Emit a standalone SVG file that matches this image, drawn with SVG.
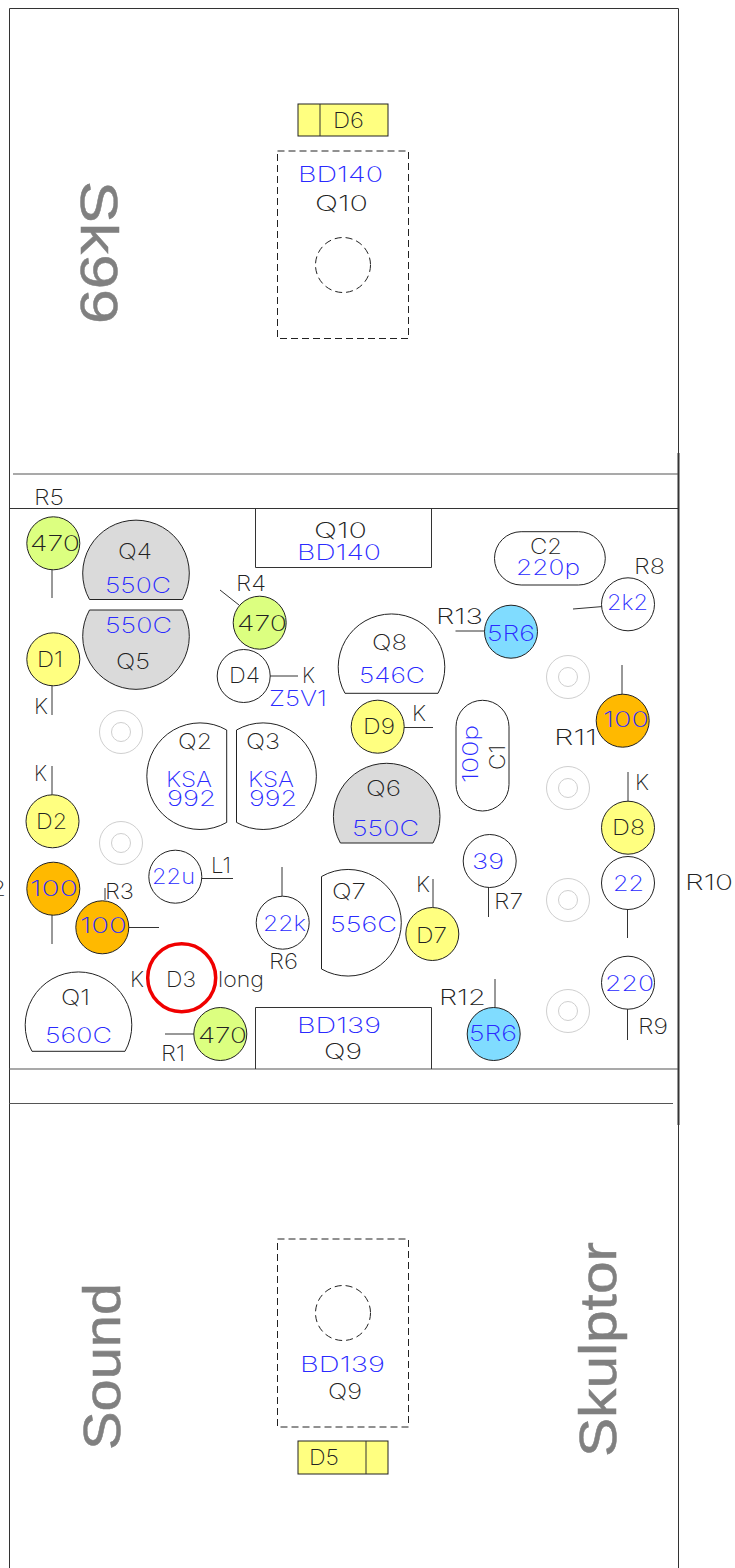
<svg xmlns="http://www.w3.org/2000/svg" width="735" height="1568" viewBox="0 0 735 1568">
<style>
text{font-family:"Inter","Liberation Sans",sans-serif;font-size:21px;font-weight:200;fill:#222}
text.b{fill:#2a2aff}
text.big{font-family:"Liberation Sans",sans-serif;font-size:52px;font-weight:400;fill:#808080;stroke:#808080;stroke-width:.5}
.o{fill:none;stroke:#222;stroke-width:1}
.w{fill:#fff;stroke:#222;stroke-width:1}
.gr{fill:#dadada;stroke:#222;stroke-width:1}
.lg{fill:#dcff80;stroke:#222;stroke-width:1}
.ye{fill:#ffff80;stroke:#222;stroke-width:1}
.or{fill:#ffb900;stroke:#222;stroke-width:1}
.bl{fill:#80dcff;stroke:#222;stroke-width:1}
.da{fill:none;stroke:#222;stroke-width:1;stroke-dasharray:7 4}
.h{fill:none;stroke:#cfcfcf;stroke-width:1}
.l{stroke:#333;stroke-width:1;fill:none}
.e{stroke:#555;stroke-width:1.2;fill:none}
</style>
<rect width="735" height="1568" fill="#fff"/>
<g id="board">
<path class="l" d="M9.5 1568V8.5H678.5V1568"/>
<path d="M678.5 453V1125" stroke="#333" stroke-width="2" fill="none"/>
<path class="e" d="M13 474H678"/>
<path class="l" d="M9 508.500H678"/>
<path class="e" d="M9 1069H678"/>
<path class="e" d="M9 1103.500H673"/>
</g>
<g id="titles">
<text class="big" transform="translate(81 181) rotate(90)" textLength="143" lengthAdjust="spacingAndGlyphs">Sk99</text>
<text class="big" transform="translate(120 1450) rotate(-90)" textLength="167" lengthAdjust="spacingAndGlyphs">Sound</text>
<text class="big" transform="translate(616 1457) rotate(-90)" textLength="215" lengthAdjust="spacingAndGlyphs">Skulptor</text>
</g>
<g id="connectors">
<path class="l" d="M52 570V598M52 686V715M220 590L239 605M267 676H298M52 766V795M52 915V944M128.500 927.500H159M105 888V900M202 878.500H233M282 867V896M165 1034H194M573 609L603 606.500M455.500 631H485M404 727.500H433M622 665V695M628 772V801M627.500 909V938M488.500 887V917M433 879V907M495 979V1007M627.500 1008V1040"/>
</g>
<g id="holes">
<g class="h"><circle cx="121" cy="732" r="21.500"/><circle cx="121" cy="732" r="9.500"/></g>
<g class="h"><circle cx="121" cy="843" r="21.500"/><circle cx="121" cy="843" r="9.500"/></g>
<g class="h"><circle cx="568" cy="677" r="21.500"/><circle cx="568" cy="677" r="9.500"/></g>
<g class="h"><circle cx="568" cy="788" r="21.500"/><circle cx="568" cy="788" r="9.500"/></g>
<g class="h"><circle cx="568" cy="900" r="21.500"/><circle cx="568" cy="900" r="9.500"/></g>
<g class="h"><circle cx="568" cy="1011" r="21.500"/><circle cx="568" cy="1011" r="9.500"/></g>
</g>
<g id="D6"><rect class="ye" x="298" y="104" width="90" height="32"/><path class="l" d="M320 104V136"/><text x="333" y="128" textLength="31" lengthAdjust="spacingAndGlyphs">D6</text></g>
<g id="Q10top"><rect class="da" x="277.500" y="151" width="131" height="187.500"/><circle class="da" cx="343" cy="265" r="27.500"/><text class="b" x="298" y="182" textLength="85" lengthAdjust="spacingAndGlyphs">BD140</text><text x="315" y="211" textLength="53" lengthAdjust="spacingAndGlyphs">Q10</text></g>
<g id="Q9bottom"><rect class="da" x="277.500" y="1239" width="131" height="188"/><circle class="da" cx="343" cy="1313" r="27.500"/><text class="b" x="300" y="1372" textLength="85" lengthAdjust="spacingAndGlyphs">BD139</text><text x="328" y="1399" textLength="34" lengthAdjust="spacingAndGlyphs">Q9</text></g>
<g id="D5"><rect class="ye" x="298" y="1441" width="90" height="33"/><path class="l" d="M366 1441V1474"/><text x="309" y="1465" textLength="30" lengthAdjust="spacingAndGlyphs">D5</text></g>
<g id="Q10"><path class="l" d="M255.500 508.500V567.500H431.500V508.500"/><text x="314" y="538" textLength="53" lengthAdjust="spacingAndGlyphs">Q10</text><text class="b" x="297" y="560" textLength="84" lengthAdjust="spacingAndGlyphs">BD140</text></g>
<g id="Q9"><path class="l" d="M255.500 1069V1007.500H431.500V1069"/><text class="b" x="297" y="1032.700" textLength="84" lengthAdjust="spacingAndGlyphs">BD139</text><text x="324" y="1059" textLength="38" lengthAdjust="spacingAndGlyphs">Q9</text></g>
<g id="R5"><circle class="lg" cx="53.300" cy="543.300" r="26.500"/><text x="30" y="551" textLength="50" lengthAdjust="spacingAndGlyphs">470</text><text x="34" y="505" textLength="30" lengthAdjust="spacingAndGlyphs">R5</text></g>
<g id="Q4"><path class="gr" d="M89.500 599.500A53.300 53.300 0 1 1 182.500 599.500Z"/><text x="118" y="558.500" textLength="34" lengthAdjust="spacingAndGlyphs">Q4</text><text class="b" x="105" y="592.700" textLength="66" lengthAdjust="spacingAndGlyphs">550C</text></g>
<g id="Q5"><path class="gr" d="M89.500 610A53.300 53.300 0 1 0 182.500 610Z"/><text class="b" x="105" y="633" textLength="67" lengthAdjust="spacingAndGlyphs">550C</text><text x="116" y="669" textLength="34" lengthAdjust="spacingAndGlyphs">Q5</text></g>
<g id="D1"><circle class="ye" cx="53.300" cy="659.300" r="26.500"/><text x="37" y="667" textLength="26" lengthAdjust="spacingAndGlyphs">D1</text><text x="34" y="714" textLength="14" lengthAdjust="spacingAndGlyphs">K</text></g>
<g id="R4"><circle class="lg" cx="259.700" cy="622.700" r="26.500"/><text x="236" y="590.700" textLength="30" lengthAdjust="spacingAndGlyphs">R4</text><text x="237" y="630.700" textLength="50" lengthAdjust="spacingAndGlyphs">470</text></g>
<g id="D4"><circle class="w" cx="243.700" cy="676" r="26.500"/><text x="229" y="683" textLength="31" lengthAdjust="spacingAndGlyphs">D4</text><text x="302" y="683" textLength="13" lengthAdjust="spacingAndGlyphs">K</text><text class="b" x="269" y="706" textLength="58" lengthAdjust="spacingAndGlyphs">Z5V1</text></g>
<g id="Q2"><path class="w" d="M226.700 730A53.300 53.300 0 1 0 226.700 822.400Z"/><text x="178" y="749" textLength="34" lengthAdjust="spacingAndGlyphs">Q2</text><text class="b" x="166" y="787" textLength="46" lengthAdjust="spacingAndGlyphs">KSA</text><text class="b" x="167" y="806" textLength="49" lengthAdjust="spacingAndGlyphs">992</text></g>
<g id="Q3"><path class="w" d="M236.500 730A53.300 53.300 0 1 1 236.500 822.400Z"/><text x="246" y="749" textLength="34" lengthAdjust="spacingAndGlyphs">Q3</text><text class="b" x="248" y="787" textLength="46" lengthAdjust="spacingAndGlyphs">KSA</text><text class="b" x="249" y="806" textLength="48" lengthAdjust="spacingAndGlyphs">992</text></g>
<g id="D2"><circle class="ye" cx="52.500" cy="821.300" r="26.500"/><text x="34" y="780.700" textLength="13" lengthAdjust="spacingAndGlyphs">K</text><text x="36" y="829" textLength="31" lengthAdjust="spacingAndGlyphs">D2</text></g>
<g id="R2"><circle class="or" cx="53.300" cy="888.700" r="26.500"/><text class="b" x="30" y="896" textLength="48" lengthAdjust="spacingAndGlyphs">100</text><text x="-24" y="896" textLength="30" lengthAdjust="spacingAndGlyphs">R2</text></g>
<g id="R3"><circle class="or" cx="102.300" cy="927.300" r="26.500"/><text x="105" y="898.700" textLength="29" lengthAdjust="spacingAndGlyphs">R3</text><text class="b" x="80" y="933" textLength="47" lengthAdjust="spacingAndGlyphs">100</text></g>
<g id="L1"><circle class="w" cx="175.300" cy="876.700" r="26.500"/><text class="b" x="152" y="884" textLength="43" lengthAdjust="spacingAndGlyphs">22u</text><text x="211" y="872.700" textLength="20" lengthAdjust="spacingAndGlyphs">L1</text></g>
<g id="R6"><circle class="w" cx="282.700" cy="922.700" r="26.500"/><text class="b" x="263" y="931" textLength="43" lengthAdjust="spacingAndGlyphs">22k</text><text x="269" y="969" textLength="29" lengthAdjust="spacingAndGlyphs">R6</text></g>
<g id="D3"><circle cx="181.700" cy="977.700" r="34" fill="none" stroke="#f00000" stroke-width="3.500"/><text x="130" y="987" textLength="14" lengthAdjust="spacingAndGlyphs">K</text><text x="166" y="986.700" textLength="30" lengthAdjust="spacingAndGlyphs">D3</text><text x="218" y="987" textLength="46" lengthAdjust="spacingAndGlyphs">long</text></g>
<g id="R1"><circle class="lg" cx="220.300" cy="1034" r="26.500"/><text x="198" y="1043" textLength="49" lengthAdjust="spacingAndGlyphs">470</text><text x="161" y="1060.700" textLength="24" lengthAdjust="spacingAndGlyphs">R1</text></g>
<g id="Q1"><path class="w" d="M32 1051.300A53.300 53.300 0 1 1 125 1051.300Z"/><text x="61" y="1004.700" textLength="29" lengthAdjust="spacingAndGlyphs">Q1</text><text class="b" x="45" y="1043" textLength="67" lengthAdjust="spacingAndGlyphs">560C</text></g>
<g id="C2"><rect class="w" x="494.500" y="531.700" width="110.800" height="53.300" rx="26.650"/><text x="530" y="554" textLength="32" lengthAdjust="spacingAndGlyphs">C2</text><text class="b" x="516" y="575" textLength="64" lengthAdjust="spacingAndGlyphs">220p</text></g>
<g id="R8"><circle class="w" cx="628" cy="604.300" r="26.500"/><text x="634" y="574" textLength="31" lengthAdjust="spacingAndGlyphs">R8</text><text class="b" x="607" y="610" textLength="41" lengthAdjust="spacingAndGlyphs">2k2</text></g>
<g id="R13"><circle class="bl" cx="511" cy="631.700" r="26.500"/><text x="436" y="624" textLength="47" lengthAdjust="spacingAndGlyphs">R13</text><text class="b" x="487" y="640.700" textLength="48" lengthAdjust="spacingAndGlyphs">5R6</text></g>
<g id="Q8"><path class="w" d="M345 693.300A53.300 53.300 0 1 1 438 693.300Z"/><text x="372" y="650" textLength="35" lengthAdjust="spacingAndGlyphs">Q8</text><text class="b" x="359" y="683" textLength="66" lengthAdjust="spacingAndGlyphs">546C</text></g>
<g id="D9"><circle class="ye" cx="377.700" cy="726.700" r="26.500"/><text x="363" y="734" textLength="32" lengthAdjust="spacingAndGlyphs">D9</text><text x="412" y="720.700" textLength="14" lengthAdjust="spacingAndGlyphs">K</text></g>
<g id="C1"><rect class="w" x="456" y="700.300" width="53" height="110.700" rx="26.500"/><text class="b" transform="translate(478 783) rotate(-90)" textLength="58" lengthAdjust="spacingAndGlyphs">100p</text><text transform="translate(505 770) rotate(-90)" textLength="25" lengthAdjust="spacingAndGlyphs">C1</text></g>
<g id="R11"><circle class="or" cx="622.700" cy="720.700" r="26.500"/><text x="554" y="745" textLength="43" lengthAdjust="spacingAndGlyphs">R11</text><text class="b" x="603" y="727" textLength="46" lengthAdjust="spacingAndGlyphs">100</text></g>
<g id="Q6"><path class="gr" d="M340.400 843A53.300 53.300 0 1 1 433 843Z"/><text x="366" y="796" textLength="35" lengthAdjust="spacingAndGlyphs">Q6</text><text class="b" x="352" y="836" textLength="67" lengthAdjust="spacingAndGlyphs">550C</text></g>
<g id="D8"><circle class="ye" cx="628" cy="827.700" r="26.500"/><text x="635" y="790" textLength="14" lengthAdjust="spacingAndGlyphs">K</text><text x="612" y="835" textLength="33" lengthAdjust="spacingAndGlyphs">D8</text></g>
<g id="R10"><circle class="w" cx="628" cy="883" r="26.500"/><text class="b" x="613" y="891" textLength="31" lengthAdjust="spacingAndGlyphs">22</text><text x="685" y="890" textLength="48" lengthAdjust="spacingAndGlyphs">R10</text></g>
<g id="R7"><circle class="w" cx="489.700" cy="861" r="26.500"/><text class="b" x="472" y="868.700" textLength="32" lengthAdjust="spacingAndGlyphs">39</text><text x="494" y="909" textLength="29" lengthAdjust="spacingAndGlyphs">R7</text></g>
<g id="Q7"><path class="w" d="M321.500 876.500A53.300 53.300 0 1 1 321.500 969Z"/><text x="332" y="899" textLength="34" lengthAdjust="spacingAndGlyphs">Q7</text><text class="b" x="330" y="932" textLength="67" lengthAdjust="spacingAndGlyphs">556C</text></g>
<g id="D7"><circle class="ye" cx="432.300" cy="934" r="26.500"/><text x="416" y="891.700" textLength="14" lengthAdjust="spacingAndGlyphs">K</text><text x="416" y="943" textLength="31" lengthAdjust="spacingAndGlyphs">D7</text></g>
<g id="R12"><circle class="bl" cx="493.700" cy="1034" r="26.500"/><text x="439" y="1005" textLength="47" lengthAdjust="spacingAndGlyphs">R12</text><text class="b" x="469" y="1040.700" textLength="48" lengthAdjust="spacingAndGlyphs">5R6</text></g>
<g id="R9"><circle class="w" cx="628" cy="982.700" r="26.500"/><text class="b" x="605" y="990.700" textLength="49" lengthAdjust="spacingAndGlyphs">220</text><text x="638" y="1034" textLength="30" lengthAdjust="spacingAndGlyphs">R9</text></g>
</svg>
